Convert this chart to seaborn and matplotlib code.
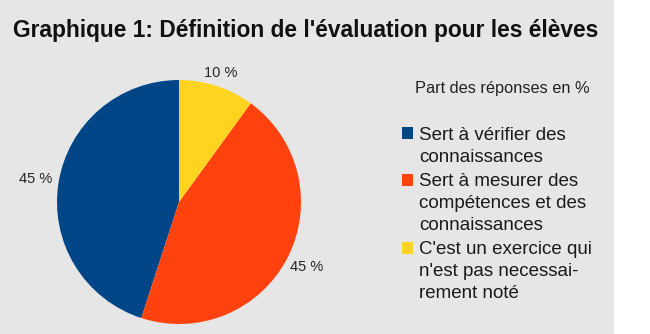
import numpy as np
import pandas as pd
import seaborn as sns
import matplotlib.pyplot as plt
from matplotlib.patches import Rectangle

# données du graphique
titre = "Graphique 1: Définition de l'évaluation pour les élèves"
titre_legende = "Part des réponses en %"
categories = ["Sert à vérifier des\nconnaissances",
              "Sert à mesurer des\ncompétences et des\nconnaissances",
              "C'est un exercice qui\nn'est pas necessai-\nrement noté"]
parts = [45, 45, 10]
couleurs = ["#004586", "#ff420e", "#ffd320"]

sns.set_style("white")
plt.rcParams["font.family"] = ["Liberation Sans", "DejaVu Sans"]
palette = sns.color_palette(couleurs)

W, H = 650, 334
R = 122  # rayon du camembert en px
def px(x, y):
    return x / W, 1 - y / H

fig = plt.figure(figsize=(W / 100, H / 100), dpi=100)
fig.patch.set_facecolor("white")
fig.patches.append(Rectangle((0, 0), 614 / W, 1, transform=fig.transFigure,
                             facecolor="#e6e6e6", edgecolor="none", zorder=-1))

# camembert : centre (179, 202)
ax = fig.add_axes([(179 - R) / W, (H - 202 - R) / H, 2 * R / W, 2 * R / H])
ax.set_facecolor("none")
wedges, texts = ax.pie(parts, colors=palette, startangle=90, counterclock=True,
                       labels=[f"{p} %" for p in parts], labeldistance=1.2,
                       textprops={"fontsize": 10.5, "color": "#262626"},
                       wedgeprops={"linewidth": 0})
ax.set_xlim(-1, 1)
ax.set_ylim(-1, 1)
ax.axis("off")

# étiquettes posées juste à l'extérieur du disque, sur la bissectrice
renderer = fig.canvas.get_renderer()
for w, t in zip(wedges, texts):
    t.set_ha("center")
    t.set_va("center")
    th = np.deg2rad((w.theta1 + w.theta2) / 2)
    bb = t.get_window_extent(renderer)
    c, s = abs(np.cos(th)), abs(np.sin(th))
    d = min(bb.width / 2 / max(c, 1e-6), bb.height / 2 / max(s, 1e-6))
    r = (R + 6 + d) / R
    t.set_position((r * np.cos(th), r * np.sin(th)))

fig.text(*px(306, 30), titre, ha="center", va="center", fontsize=16.4,
         fontweight="bold", color="#111111")
fig.text(*px(415, 88), titre_legende, ha="left", va="center", fontsize=11.8,
         color="#222222")

# légende faite à la main pour aligner le carré sur la première ligne
y = 133
for cat, c in zip(categories, palette):
    x0, y0 = px(402, y + 6)
    fig.patches.append(Rectangle((x0, y0), 11 / W, 12 / H, transform=fig.transFigure,
                                 facecolor=c, edgecolor="none"))
    for ligne in cat.split("\n"):
        fig.text(*px(419, y + 2), ligne, ha="left", va="center", fontsize=13.5,
                 color="#1a1a1a")
        y += 22
    y += 2.5

plt.savefig("out.png", dpi=100, facecolor=fig.get_facecolor())
